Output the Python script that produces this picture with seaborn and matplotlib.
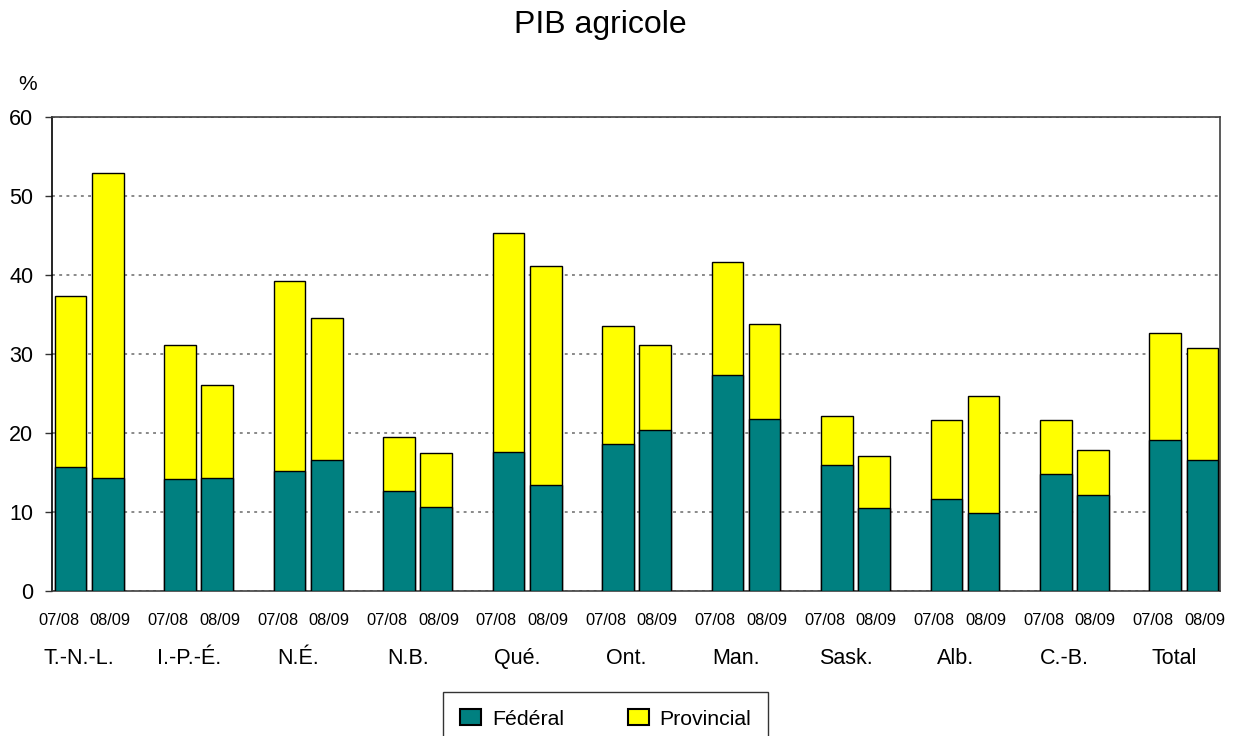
import pandas as pd
import matplotlib
matplotlib.use('Agg')
import matplotlib.pyplot as plt
import seaborn as sns
from matplotlib.patches import Patch

# données (%)
regions = ['T.-N.-L.', 'I.-P.-É.', 'N.É.', 'N.B.', 'Qué.', 'Ont.',
           'Man.', 'Sask.', 'Alb.', 'C.-B.', 'Total']
years = ['07/08', '08/09']
federal_0708 = [15.7, 14.2, 15.2, 12.6, 17.6, 18.6, 27.4, 15.9, 11.7, 14.8, 19.1]
federal_0809 = [14.3, 14.3, 16.6, 10.6, 13.4, 20.4, 21.8, 10.5, 9.9, 12.2, 16.6]
provincial_0708 = [21.6, 17.0, 24.0, 6.9, 27.7, 15.0, 14.3, 6.3, 9.9, 6.8, 13.5]
provincial_0809 = [38.6, 11.8, 17.9, 6.9, 27.7, 10.8, 12.0, 6.6, 14.8, 5.6, 14.1]

TEAL = '#008080'
YELLOW = '#FFFF00'

df = pd.DataFrame({
    'region': regions * 2,
    'year': [years[0]] * len(regions) + [years[1]] * len(regions),
    'federal': federal_0708 + federal_0809,
    'provincial': provincial_0708 + provincial_0809,
})
df['total'] = df['federal'] + df['provincial']

sns.set_style('white')
plt.rcParams['font.family'] = ['Liberation Sans', 'DejaVu Sans']
for k in ['text.color', 'axes.labelcolor', 'xtick.color', 'ytick.color']:
    plt.rcParams[k] = 'black'

fig = plt.figure(figsize=(12.34, 7.36), dpi=100)
ax = fig.add_axes([0.0421, 0.197, 0.9466, 0.644])

common = dict(x='region', hue='year', order=regions, hue_order=years,
              width=0.68, gap=0.15, errorbar=None, legend=False,
              edgecolor='black', linewidth=1.0, saturation=1, ax=ax, zorder=3)
# barre totale (provincial en haut) puis fédéral par-dessus
sns.barplot(data=df, y='total', palette=[YELLOW, YELLOW], **common)
sns.barplot(data=df, y='federal', palette=[TEAL, TEAL], **common)

ax.set_ylim(0, 60)
ax.set_yticks(range(0, 61, 10))
ax.set_xlim(-0.34, 10.33)
ax.set_xlabel('')
ax.set_ylabel('')

# étiquettes années (majeures) et régions (mineures), décalées comme dans Excel
pos = []
labs = []
for i in range(len(regions)):
    pos += [i - 0.28, i + 0.19]
    labs += years
ax.set_xticks(pos, labs, fontsize=11.8)
ax.set_xticks([i - 0.09 for i in range(len(regions))], regions, minor=True, fontsize=15.5)
ax.tick_params(axis='x', which='major', length=0, pad=16)
ax.tick_params(axis='x', which='minor', length=0, pad=41)
ax.tick_params(axis='y', length=5, width=1, color='#333333', labelsize=15.5, pad=8.5,
               left=True, direction='out')

ax.yaxis.grid(True, color='#808080', linestyle=(0, (1.6, 2.4)), linewidth=1.3, zorder=0)
ax.set_axisbelow(True)
for side in ['left', 'right', 'top', 'bottom']:
    ax.spines[side].set_visible(True)
    ax.spines[side].set_color('#404040')
    ax.spines[side].set_linewidth(1.2)
ax.spines['left'].set_color('black')

fig.text(600 / 1234, 1 - 33 / 736, 'PIB agricole', ha='center', va='baseline', fontsize=23)
fig.text(27.5 / 1234, 1 - 84.5 / 736, '%', ha='center', va='center', fontsize=15)

handles = [Patch(facecolor=TEAL, edgecolor='black', linewidth=1.5, label='Fédéral'),
           Patch(facecolor=YELLOW, edgecolor='black', linewidth=1.5, label='Provincial')]
leg = fig.legend(handles=handles, loc='upper center', bbox_to_anchor=(605.5 / 1234, 1 - 692 / 736),
                 ncol=2, fontsize=15.3, frameon=True, fancybox=False, edgecolor='black',
                 handlelength=1.0, handleheight=0.8, handletextpad=0.5,
                 columnspacing=3.0, borderpad=0.8, borderaxespad=0)
leg.get_frame().set_linewidth(1.0)

fig.savefig('out.png', dpi=100)
